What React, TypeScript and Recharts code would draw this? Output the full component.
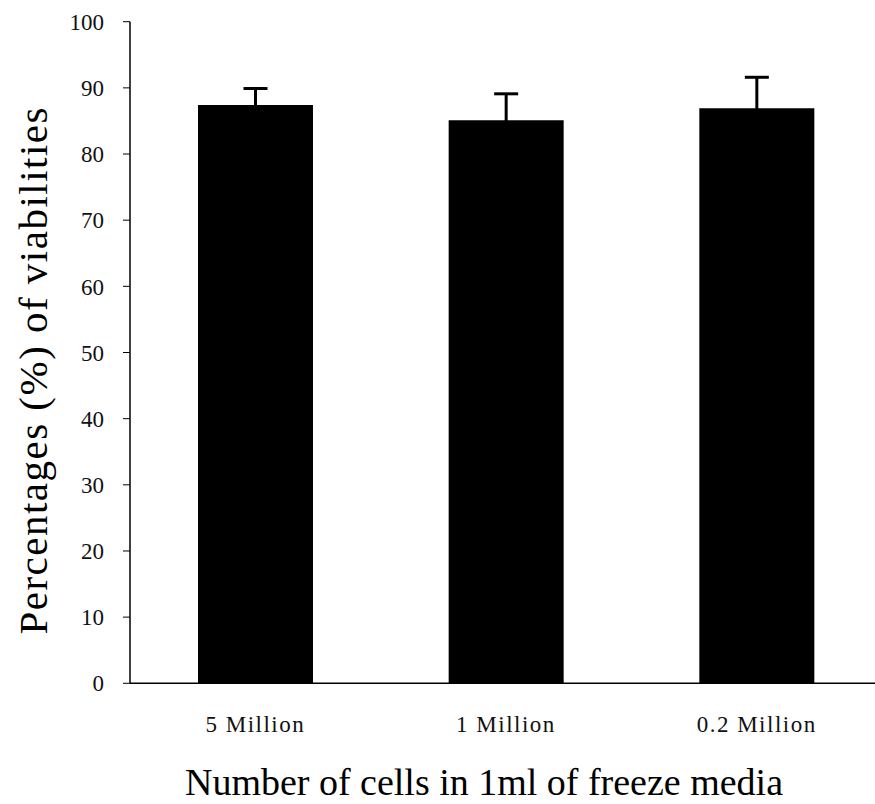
import React from 'react';
import { BarChart, Bar, XAxis, YAxis, ErrorBar } from 'recharts';

// Cell viability after freezing, by cell density per ml of freeze media
const categories = ['5 Million', '1 Million', '0.2 Million'];
const viability = [87.4, 85.1, 86.9];
const viabilityError = [2.5, 4.0, 4.7];
const yTicks = [0, 10, 20, 30, 40, 50, 60, 70, 80, 90, 100];

const data = categories.map((name, i) => ({
  name,
  value: viability[i],
  err: viabilityError[i],
}));

const SERIF = 'Liberation Serif, Times New Roman, Tinos, serif';

const XTitle = (props: any) => {
  const { viewBox } = props;
  const cx = viewBox.x + viewBox.width / 2 - 22;
  return (
    <text
      x={cx}
      y={viewBox.y + 112}
      textAnchor="middle"
      style={{ fontFamily: SERIF }}
      fontSize={38}
      fill="#000"
      textLength={598}
      lengthAdjust="spacingAndGlyphs"
    >
      Number of cells in 1ml of freeze media
    </text>
  );
};

const YTitle = (props: any) => {
  const { viewBox } = props;
  const cx = 47;
  const cy = viewBox.y + viewBox.height / 2 + 18.5;
  return (
    <text
      x={cx}
      y={cy}
      transform={`rotate(-90 ${cx} ${cy})`}
      textAnchor="middle"
      style={{ fontFamily: SERIF }}
      fontSize={41}
      fill="#000"
      textLength={527}
      lengthAdjust="spacing"
    >
      Percentages (%) of viabilities
    </text>
  );
};

export default function App() {
  return (
    <div
      style={{
        position: 'absolute',
        left: 0,
        top: 0,
        width: 875,
        height: 804,
        overflow: 'hidden',
        background: '#fff',
        fontFamily: SERIF,
      }}
    >
      <BarChart
        width={882}
        height={804}
        data={data}
        margin={{ top: 21.7, right: 0, bottom: 0, left: 0 }}
        barCategoryGap={0}
      >
        <XAxis
          dataKey="name"
          height={120.7}
          axisLine={{ stroke: '#000', strokeWidth: 1.5 }}
          tickLine={false}
          tickSize={0}
          tickMargin={32}
          tick={{ fontFamily: SERIF, fontSize: 23, fill: '#111', letterSpacing: 1.5 }}
          interval={0}
          label={<XTitle />}
        />
        <YAxis
          width={130}
          domain={[0, 100]}
          ticks={yTicks}
          interval={0}
          axisLine={{ stroke: '#000', strokeWidth: 1.5 }}
          tickLine={{ stroke: '#000', strokeWidth: 1 }}
          tickSize={7}
          tickMargin={19}
          tick={{ fontFamily: SERIF, fontSize: 23, fill: '#111' }}
          label={<YTitle />}
        />
        <Bar dataKey="value" fill="#000" barSize={115} isAnimationActive={false}>
          <ErrorBar
            dataKey="err"
            direction="y"
            width={12}
            stroke="#000"
            strokeWidth={3}
            isAnimationActive={false}
          />
        </Bar>
      </BarChart>
    </div>
  );
}
